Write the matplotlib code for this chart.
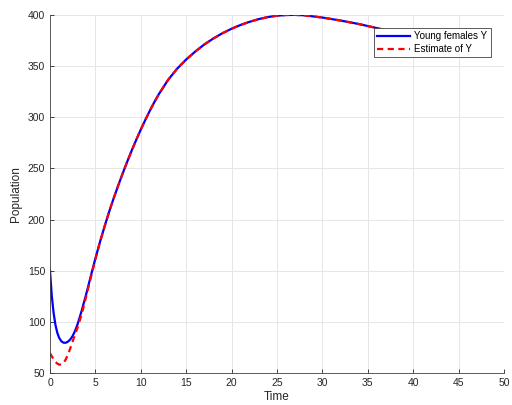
import matplotlib.pyplot as plt
import numpy as np

plt.rcParams['font.family'] = ['Liberation Sans', 'DejaVu Sans']

# values
t_y = [0, 0.2, 0.4, 0.6, 0.8, 1.0, 1.25, 1.5, 1.75, 2, 2.25, 2.5, 2.75, 3, 3.25, 3.5, 3.75,
       4, 4.5, 5, 5.5, 6, 6.5, 7, 7.5, 8, 8.5, 9, 9.5, 10, 10.5, 11, 11.5, 12,
       13, 14, 15, 16, 17, 18, 19, 20, 21, 22, 23, 24, 25, 26, 27, 28,
       30, 32, 34, 36, 38, 40, 42, 44, 45.5]
young = [150, 125, 108.5, 97, 89.5, 84.5, 81, 79.6, 79.6, 80.8, 83, 86.3, 91, 96.8, 103.8, 111.3, 119.3,
         127.6, 145, 162, 178, 193, 207.3, 220.5, 233, 245, 256.5, 267.5, 278, 288, 297.5, 306.5, 315, 322.8,
         336.5, 347.5, 356.5, 364.3, 371.2, 377.1, 382.2, 386.6, 390.3, 393.4, 396, 398, 399.3, 400, 400.1, 399.7,
         397.5, 394.6, 391.2, 387.2, 382.6, 377.4, 371.6, 365.2, 360]

t_e = [0, 0.25, 0.5, 0.75, 1, 1.25, 1.5, 1.75, 2, 2.25, 2.5, 2.75, 3, 3.25, 3.5, 3.75,
       4, 4.5, 5, 5.5, 6, 6.5, 7, 7.5, 8, 8.5, 9, 9.5, 10, 10.5, 11, 11.5, 12,
       13, 14, 15, 16, 17, 18, 19, 20, 21, 22, 23, 24, 25, 26, 27, 28,
       30, 32, 34, 36, 38, 40, 42, 44, 45.5]
estimate = [69.4, 65.5, 62, 59.5, 58.2, 58.2, 60, 63.5, 68.5, 74.5, 81, 87.5, 93.5, 100.5, 108, 116.5,
            125.5, 143.5, 161.3, 177.8, 193, 207.3, 220.5, 233, 245, 256.5, 267.5, 278, 288, 297.5, 306.5, 315, 322.8,
            336.5, 347.5, 356.5, 364.3, 371.2, 377.1, 382.2, 386.6, 390.3, 393.4, 396, 398, 399.3, 400, 400.1, 399.7,
            397.5, 394.6, 391.2, 387.2, 382.6, 377.4, 371.6, 365.2, 360]

fig = plt.figure(figsize=(5.12, 4.05), dpi=100)
ax = fig.add_axes([50/512, 32/405, 454/512, 358/405])

ax.plot(t_y, young, color='#0000ff', lw=1.6, label='Young females Y')
ax.plot(t_e, estimate, color='#ff0000', lw=1.6, ls=(0, (2.8, 2)), label='Estimate of Y')

ax.set_xlim(0, 50)
ax.set_ylim(50, 400)
ax.set_xticks(np.arange(0, 51, 5))
ax.set_yticks(np.arange(50, 401, 50))
ax.grid(True, color='#e6e6e6', lw=0.7)
ax.set_axisbelow(True)
for s in ['top', 'right']:
    ax.spines[s].set_visible(False)
for s in ['left', 'bottom']:
    ax.spines[s].set_color('#404040')
    ax.spines[s].set_linewidth(0.6)
ax.tick_params(direction='in', length=3, width=0.6, colors='#262626', labelsize=7.5)
ax.set_xlabel('Time', fontsize=8.5, color='#262626', labelpad=2)
ax.set_ylabel('Population', fontsize=8.5, color='#262626', labelpad=4)

leg = ax.legend(loc='upper right', bbox_to_anchor=(0.982, 0.977), fontsize=7,
                fancybox=False, edgecolor='#404040', framealpha=1,
                handlelength=3.3, borderpad=0.35, labelspacing=0.25, handletextpad=0.5)
leg.get_frame().set_linewidth(0.6)

fig.savefig('out.png', dpi=100)
